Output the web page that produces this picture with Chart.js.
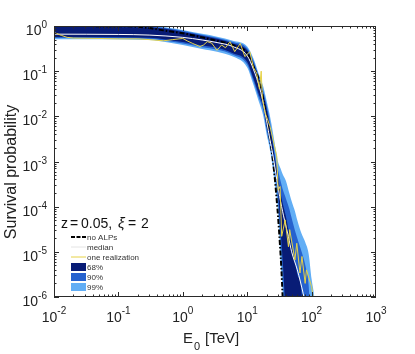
<!DOCTYPE html>
<html>
<head>
<meta charset="utf-8">
<script src="https://cdn.jsdelivr.net/npm/chart.js@4/dist/chart.umd.min.js"></script>
<style>
  html, body { margin: 0; padding: 0; background: #fff; }
  #wrap { width: 415px; height: 354px; }
</style>
</head>
<body>
<div id="wrap"><canvas id="chart" width="415" height="354"></canvas></div>
<script>
// energies in TeV, survival probabilities
const noAlpsE = [0.01, 0.1, 0.2, 0.3, 0.5, 1, 2, 3.4, 6, 10, 12.5, 15.8, 17.8, 20, 22.6, 25, 27, 29, 30.4, 32.4, 34, 35.5, 37];
const noAlpsP = [0.995, 0.99, 0.96, 0.9, 0.8, 0.69, 0.56, 0.47, 0.38, 0.25, 0.126, 0.054, 0.023, 0.009, 3e-3, 1.1e-3, 3.9e-4, 1.2e-4, 5.1e-5, 1.3e-5, 4e-6, 1e-6, 2e-7];

const medianE = [0.01, 0.1, 0.3, 1, 2, 3.4, 6, 10, 12.5, 15.8, 17.8, 20, 22.6, 25, 28.8, 33, 38, 43.6, 49, 60, 74, 82];
const medianP = [0.66, 0.65, 0.63, 0.56, 0.49, 0.43, 0.35, 0.22, 0.11, 0.04, 0.019, 8e-3, 3e-3, 1.4e-3, 4e-4, 1.3e-4, 5e-5, 2.2e-5, 1e-5, 4e-6, 1.2e-6, 6e-7];

const realE = [0.01, 0.013, 0.016, 0.02, 0.05, 0.1, 0.2, 0.3, 0.5, 0.7, 1.0, 1.2, 1.43, 1.85, 2.1, 2.4, 2.8, 3.4, 4.0, 4.6, 5.4, 6.4, 7.8, 9.2, 11, 12.5, 14, 15.5, 16.5, 17.2, 19, 22.6, 26, 28.8, 30.2, 32.4, 34.3, 38.9, 43.7, 45.7, 55, 58.9, 66, 70.8, 79.4, 83.2, 100, 107];
const realP = [0.72, 0.62, 0.56, 0.54, 0.53, 0.52, 0.52, 0.5, 0.47, 0.5, 0.53, 0.46, 0.41, 0.35, 0.38, 0.45, 0.42, 0.29, 0.38, 0.33, 0.45, 0.27, 0.41, 0.21, 0.27, 0.12, 0.09, 0.04, 0.1, 0.025, 0.012, 6e-3, 2.5e-3, 1.3e-3, 2.3e-4, 2.8e-4, 2.2e-5, 5.1e-5, 1.3e-5, 3.1e-5, 6.6e-6, 1.55e-5, 3.4e-6, 7.9e-6, 2.0e-6, 4e-6, 1.7e-6, 8.7e-7];

// containment bands share one energy grid; 1e-8 means below the plotted range
const bandE = [0.01, 0.3, 0.6, 1, 2, 3.4, 6, 10, 12.5, 15, 17.8, 20, 22.6, 25, 28, 30, 33, 36, 40, 45, 50, 55, 60, 70, 80, 90, 100, 110, 125];
const up99 = [1.0, 1.0, 0.92, 0.82, 0.67, 0.58, 0.47, 0.35, 0.19, 0.09, 0.045, 0.022, 1e-2, 4.5e-3, 1.7e-3, 1e-3, 7e-4, 5e-4, 3.7e-4, 2e-4, 1.2e-4, 8e-5, 5e-5, 2.5e-5, 1.6e-5, 9e-6, 2.5e-6, 1e-6, 1e-7];
const lo99 = [0.51, 0.49, 0.43, 0.38, 0.31, 0.27, 0.21, 0.12, 0.05, 0.022, 1e-2, 4e-3, 1.8e-3, 7e-4, 2e-4, 8e-5, 6e-6, 1e-6, 1e-8, 1e-8, 1e-8, 1e-8, 1e-8, 1e-8, 1e-8, 1e-8, 1e-8, 1e-8, 1e-8];
const up90 = [0.98, 0.97, 0.88, 0.78, 0.64, 0.55, 0.44, 0.32, 0.17, 0.08, 0.036, 0.018, 7.5e-3, 3e-3, 1e-3, 6.5e-4, 3.7e-4, 2.3e-4, 1.5e-4, 9e-5, 5e-5, 3e-5, 2e-5, 1e-5, 5e-6, 1.8e-6, 1e-7, 1e-8, 1e-8];
const lo90 = [0.54, 0.52, 0.46, 0.41, 0.34, 0.3, 0.23, 0.14, 0.06, 0.027, 1.3e-2, 5e-3, 2.3e-3, 1.1e-3, 3.5e-4, 1.4e-4, 1.8e-5, 2.5e-6, 1e-7, 1e-8, 1e-8, 1e-8, 1e-8, 1e-8, 1e-8, 1e-8, 1e-8, 1e-8, 1e-8];
const up68 = [0.95, 0.94, 0.85, 0.74, 0.61, 0.52, 0.41, 0.29, 0.15, 0.07, 0.03, 0.015, 6e-3, 2.4e-3, 8e-4, 4.5e-4, 2e-4, 1.1e-4, 6e-5, 2.5e-5, 1.2e-5, 6e-6, 3.2e-6, 1.2e-6, 1e-8, 1e-8, 1e-8, 1e-8, 1e-8];
const lo68 = [0.57, 0.55, 0.49, 0.44, 0.37, 0.33, 0.25, 0.16, 0.07, 0.032, 1.6e-2, 6e-3, 3e-3, 1.6e-3, 5e-4, 2.2e-4, 3e-5, 5e-6, 3e-7, 1e-8, 1e-8, 1e-8, 1e-8, 1e-8, 1e-8, 1e-8, 1e-8, 1e-8, 1e-8];

const xDecades = [-2, -1, 0, 1, 2, 3];
const yDecades = [0, -1, -2, -3, -4, -5, -6];

const c68 = 'rgb(8,28,118)';
const c90 = 'rgb(38,98,206)';
const c99 = 'rgb(98,174,245)';
const cReal = '#e6d246';
const FONT = "'Liberation Sans', Arial, sans-serif";

const pts = (xs, ys) => xs.map((x, i) => ({ x: x, y: ys[i] }));

// frame, inward ticks, labels, annotation and legend, MATLAB style
const decor = {
  id: 'decor',
  afterDraw(chart) {
    const { ctx, chartArea: a, scales: { x, y } } = chart;
    ctx.save();
    ctx.strokeStyle = '#2a2a2a';
    ctx.lineWidth = 1;
    ctx.strokeRect(a.left + 0.5, a.top + 0.5, a.right - a.left - 1, a.bottom - a.top - 1);

    ctx.beginPath();
    for (let d = -2; d < 3; d++) {
      for (let m = 1; m <= 9; m++) {
        const px = Math.round(x.getPixelForValue(m * 10 ** d)) + 0.5;
        const len = m === 1 ? 5 : 2.5;
        ctx.moveTo(px, a.bottom); ctx.lineTo(px, a.bottom - len);
        ctx.moveTo(px, a.top); ctx.lineTo(px, a.top + len);
      }
    }
    for (let d = -6; d < 0; d++) {
      for (let m = 1; m <= 9; m++) {
        const py = Math.round(y.getPixelForValue(m * 10 ** d)) + 0.5;
        const len = m === 1 ? 5 : 2.5;
        ctx.moveTo(a.left, py); ctx.lineTo(a.left + len, py);
        ctx.moveTo(a.right, py); ctx.lineTo(a.right - len, py);
      }
    }
    ctx.stroke();

    ctx.fillStyle = '#222';
    ctx.textBaseline = 'alphabetic';
    // x tick labels
    xDecades.forEach(n => {
      const px = x.getPixelForValue(10 ** n);
      ctx.font = '14px ' + FONT;
      const w1 = ctx.measureText('10').width;
      ctx.font = '10px ' + FONT;
      const w2 = ctx.measureText(String(n)).width;
      const x0 = px - (w1 + w2) / 2;
      ctx.textAlign = 'left';
      ctx.font = '14px ' + FONT;
      ctx.fillText('10', x0, 322);
      ctx.font = '10px ' + FONT;
      ctx.fillText(String(n), x0 + w1, 314);
    });
    // y tick labels
    yDecades.forEach(n => {
      const py = y.getPixelForValue(10 ** n);
      ctx.font = '10px ' + FONT;
      const w2 = ctx.measureText(String(n)).width;
      ctx.textAlign = 'right';
      ctx.fillText(String(n), 47, py + 2);
      ctx.font = '14px ' + FONT;
      ctx.fillText('10', 47 - w2, py + 9);
    });

    // axis titles
    ctx.textAlign = 'left';
    ctx.font = '15px ' + FONT;
    ctx.fillText('E', 183, 343);
    ctx.font = '11px ' + FONT;
    ctx.fillText('0', 194, 350);
    ctx.font = '15px ' + FONT;
    ctx.fillText('[TeV]', 205, 343);

    ctx.save();
    ctx.translate(16, 172);
    ctx.rotate(-Math.PI / 2);
    ctx.textAlign = 'center';
    ctx.font = '16px ' + FONT;
    ctx.fillText('Survival probability', 0, 0);
    ctx.restore();

    // annotation, placed piece by piece like the original spacing
    ctx.textAlign = 'left';
    ctx.fillStyle = '#111';
    ctx.font = '14px ' + FONT;
    ctx.fillText('z', 61, 228);
    ctx.fillText('=', 70, 228);
    ctx.fillText('0.05,', 81, 228);
    ctx.font = 'italic 15px ' + FONT;
    ctx.fillText('\u03BE', 118, 228);
    ctx.font = '14px ' + FONT;
    ctx.fillText('=', 128, 228);
    ctx.fillText('2', 141, 228);

    // legend
    ctx.font = '8px ' + FONT;
    ctx.fillStyle = '#333';
    const lines = [
      ['no ALPs', '#000', 2, [4, 1.5]],
      ['median', '#e4e4e4', 1, []],
      ['one realization', cReal, 1, []]
    ];
    lines.forEach((l, i) => {
      const ly = 237 + i * 10;
      ctx.beginPath();
      ctx.strokeStyle = l[1];
      ctx.lineWidth = l[2];
      ctx.setLineDash(l[3]);
      ctx.moveTo(71, ly); ctx.lineTo(86, ly);
      ctx.stroke();
      ctx.setLineDash([]);
      ctx.fillText(l[0], 87, ly + 3);
    });
    [['68%', c68], ['90%', c90], ['99%', c99]].forEach((b, i) => {
      const by = 263 + i * 10;
      ctx.fillStyle = b[1];
      ctx.fillRect(71, by, 15, 8);
      ctx.fillStyle = '#333';
      ctx.fillText(b[0], 87, by + 7);
    });
    ctx.restore();
  }
};

const band = (values, color, target) => ({
  data: pts(bandE, values), borderWidth: 0, borderColor: color, backgroundColor: color,
  pointRadius: 0, fill: target === undefined ? false : target, cubicInterpolationMode: 'monotone'
});

new Chart(document.getElementById('chart'), {
  type: 'line',
  data: {
    datasets: [
      { label: 'one realization', data: pts(realE, realP), borderColor: cReal, borderWidth: 1, pointRadius: 0, fill: false },
      { label: 'median', data: pts(medianE, medianP), borderColor: '#fff', borderWidth: 1, pointRadius: 0, fill: false, cubicInterpolationMode: 'monotone' },
      { label: 'no ALPs', data: pts(noAlpsE, noAlpsP), borderColor: '#000', borderWidth: 2, borderDash: [5, 2, 1.5, 2], pointRadius: 0, fill: false, cubicInterpolationMode: 'monotone' },
      band(up68, c68, 4),
      band(lo68, c68),
      band(up90, c90, 6),
      band(lo90, c90),
      band(up99, c99, 8),
      band(lo99, c99)
    ]
  },
  options: {
    responsive: false,
    animation: false,
    layout: { padding: { top: 26, right: 39, left: 0, bottom: 0 } },
    plugins: { legend: { display: false }, tooltip: { enabled: false } },
    scales: {
      x: {
        type: 'logarithmic', min: 0.01, max: 1000,
        grid: { display: false }, border: { display: false }, ticks: { display: false },
        afterFit: s => { s.height = 57; }
      },
      y: {
        type: 'logarithmic', min: 1e-6, max: 1,
        grid: { display: false }, border: { display: false }, ticks: { display: false },
        afterFit: s => { s.width = 54; }
      }
    }
  },
  plugins: [decor]
});
</script>
</body>
</html>
